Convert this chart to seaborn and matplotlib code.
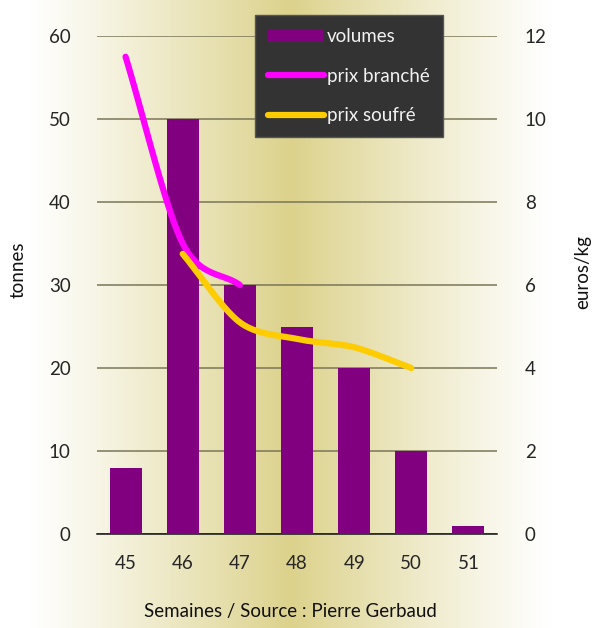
import numpy as np
import pandas as pd
import matplotlib
matplotlib.use("Agg")
import matplotlib.pyplot as plt
from matplotlib.patches import Patch
from matplotlib.lines import Line2D
import seaborn as sns

weeks = ["45", "46", "47", "48", "49", "50", "51"]
volumes = [8, 50, 30, 25, 20, 10, 1]
prix_branche_weeks = ["45", "46", "47"]
prix_branche = [11.5, 7.0, 6.0]
prix_soufre_weeks = ["46", "47", "48", "49", "50"]
prix_soufre = [6.75, 5.1, 4.7, 4.5, 4.0]

PURPLE = "#800080"
MAGENTA = "#ff00ff"
GOLD = "#ffcc00"
FS = 13.5


def smooth(xs, ys, n=40):
    # catmull-rom style smoothing, like the spreadsheet "smoothed line"
    xs = np.asarray(xs, float)
    ys = np.asarray(ys, float)
    px = np.concatenate([[2 * xs[0] - xs[1]], xs, [2 * xs[-1] - xs[-2]]])
    py = np.concatenate([[2 * ys[0] - ys[1]], ys, [2 * ys[-1] - ys[-2]]])
    out_x, out_y = [], []
    for i in range(1, len(px) - 2):
        t = np.linspace(0, 1, n)
        for p, out in ((px, out_x), (py, out_y)):
            p0, p1, p2, p3 = p[i - 1], p[i], p[i + 1], p[i + 2]
            m1 = (p2 - p0) / 2 * 0.9
            m2 = (p3 - p1) / 2 * 0.9
            h00 = 2 * t**3 - 3 * t**2 + 1
            h10 = t**3 - 2 * t**2 + t
            h01 = -2 * t**3 + 3 * t**2
            h11 = t**3 - t**2
            out.extend(h00 * p1 + h10 * m1 + h01 * p2 + h11 * m2)
    return np.array(out_x), np.array(out_y)


sns.set_style("white")
plt.rcParams["font.family"] = ["Lato", "DejaVu Sans"]
plt.rcParams["font.size"] = FS
plt.rcParams["text.color"] = "#111111"

fig = plt.figure(figsize=(5.92, 6.28), dpi=100)

# horizontal gradient background (white edges, khaki middle)
bg = fig.add_axes([0, 0, 1, 1], zorder=-10)
xx = np.linspace(0, 1, 600)
w = np.clip(1 - np.abs(xx - 0.49) / 0.44, 0, 1) ** 1.1
white = np.array([1.0, 1.0, 1.0])
khaki = np.array([220, 210, 140]) / 255
grad = white[None, :] * (1 - w[:, None]) + khaki[None, :] * w[:, None]
bg.imshow(grad[None, :, :], aspect="auto", extent=[0, 1, 0, 1])
bg.axis("off")

ax = fig.add_axes([97 / 592, 1 - 534 / 628, 400 / 592, 498 / 628])
ax.patch.set_visible(False)

df = pd.DataFrame({"semaine": weeks, "volume": volumes})
sns.barplot(data=df, x="semaine", y="volume", color=PURPLE, saturation=1,
            width=0.56, linewidth=0, ax=ax, zorder=3)

ax.set_xlim(-0.5, len(weeks) - 0.5)
ax.set_ylim(0, 60)
ax.set_yticks(range(0, 61, 10))
ax.yaxis.grid(True, color="#7a7658", linewidth=1.1, zorder=1)
ax.set_axisbelow(True)
for s in ["left", "right", "top"]:
    ax.spines[s].set_visible(False)
ax.spines["bottom"].set_color("#111111")
ax.spines["bottom"].set_linewidth(1.1)
ax.set_xticks(np.arange(-0.5, len(weeks), 1), minor=True)
ax.tick_params(axis="x", which="minor", length=6, width=1, color="#111111", direction="out")
ax.tick_params(axis="x", which="major", length=0, pad=15, labelsize=FS)
ax.tick_params(axis="y", length=0, pad=19, labelsize=FS)
ax.set_xlabel("")
ax.set_ylabel("")

ax2 = ax.twinx()
ax2.patch.set_visible(False)
ax2.set_ylim(0, 12)
ax2.set_yticks(range(0, 13, 2))
ax2.tick_params(axis="y", length=0, pad=20, labelsize=FS)
for s in ["left", "right", "top", "bottom"]:
    ax2.spines[s].set_visible(False)

bx, by = smooth([weeks.index(w_) for w_ in prix_branche_weeks], prix_branche)
sx, sy = smooth([weeks.index(w_) for w_ in prix_soufre_weeks], prix_soufre)
ax2.plot(bx, by, color=MAGENTA, lw=4.5, solid_capstyle="round", zorder=4)
ax2.plot(sx, sy, color=GOLD, lw=4.5, solid_capstyle="round", zorder=5)

handles = [
    Patch(facecolor=PURPLE, edgecolor="none"),
    Line2D([0], [0], color=MAGENTA, lw=4.5, solid_capstyle="round"),
    Line2D([0], [0], color=GOLD, lw=4.5, solid_capstyle="round"),
]
leg = fig.legend(handles, ["volumes", "prix branché", "prix soufré"],
                 loc="upper left", bbox_to_anchor=(255 / 592, 1 - 15 / 628),
                 frameon=True, fancybox=False, framealpha=1,
                 facecolor="#333333", edgecolor="#555555",
                 labelcolor="#f2f2f2", fontsize=FS,
                 handlelength=3.0, handletextpad=0.15, labelspacing=1.2,
                 borderpad=0.7, borderaxespad=0)
leg.set_zorder(20)

fig.text(18 / 592, 1 - 270 / 628, "tonnes", rotation=90,
         ha="center", va="center", fontsize=FS)
fig.text(583 / 592, 1 - 272 / 628, "euros/kg", rotation=90,
         ha="center", va="center", fontsize=FS)
fig.text(290 / 592, 1 - 612 / 628, "Semaines / Source : Pierre Gerbaud",
         ha="center", va="center", fontsize=FS)

fig.savefig("out.png", dpi=100)
